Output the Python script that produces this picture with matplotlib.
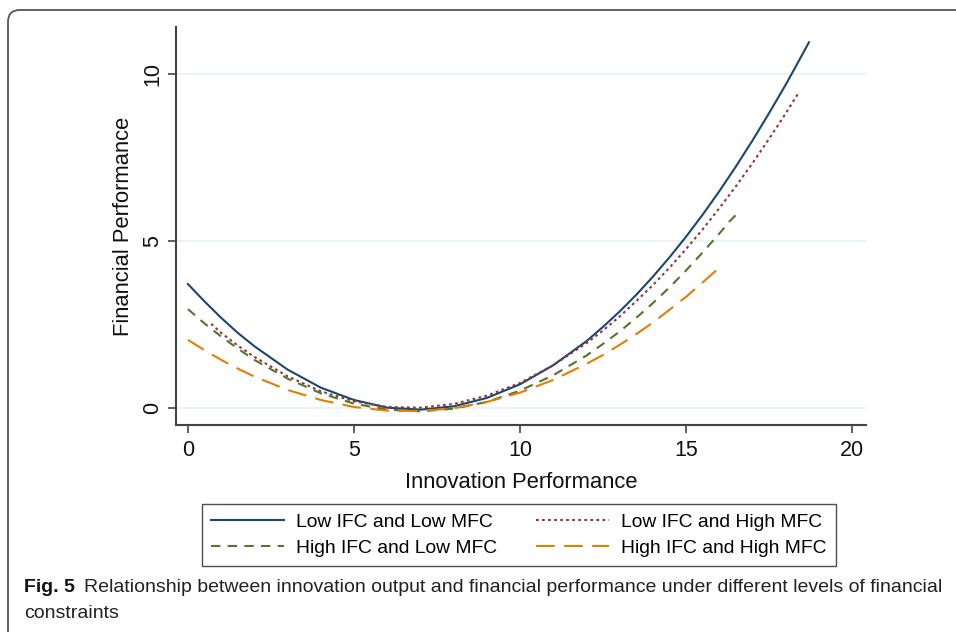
import matplotlib
matplotlib.use("Agg")
import matplotlib.pyplot as plt
from matplotlib.patches import FancyBboxPatch
from matplotlib.transforms import IdentityTransform

# ---- data ----
x_low_low = [0, 0.5, 1, 1.5, 2, 3, 4, 5, 6, 7, 8, 9, 10, 11, 12, 12.5, 13, 13.5, 14, 14.5,
             15, 15.5, 16, 16.5, 17, 17.5, 18, 18.35, 18.7]
y_low_low = [3.71, 3.19, 2.70, 2.25, 1.85, 1.15, 0.61, 0.24, 0.01, -0.05, 0.05, 0.30, 0.71,
             1.28, 2.00, 2.43, 2.89, 3.39, 3.93, 4.51, 5.13, 5.79, 6.49, 7.23, 8.01, 8.83,
             9.68, 10.31, 10.95]

x_low_high = [0.7, 1, 1.5, 2, 3, 4, 5, 6, 7, 8, 9, 10, 11, 12, 12.5, 13, 13.5, 14, 14.5,
              15, 15.5, 16, 16.5, 17, 17.5, 18, 18.4]
y_low_high = [2.52, 2.25, 1.87, 1.53, 0.95, 0.50, 0.20, 0.03, 0.01, 0.12, 0.37, 0.75, 1.28,
              1.94, 2.32, 2.74, 3.20, 3.68, 4.20, 4.76, 5.35, 5.98, 6.64, 7.33, 8.06, 8.82,
              9.46]

x_high_low = [0, 0.5, 1, 1.5, 2, 3, 4, 5, 6, 7, 8, 9, 10, 11, 12, 12.5, 13, 13.5, 14, 14.5,
              15, 15.5, 16, 16.3, 16.6]
y_high_low = [2.96, 2.53, 2.14, 1.78, 1.44, 0.88, 0.44, 0.13, -0.05, -0.10, -0.02, 0.18,
              0.52, 0.98, 1.57, 1.92, 2.29, 2.70, 3.14, 3.61, 4.12, 4.66, 5.22, 5.58, 5.88]

x_high_high = [0, 0.5, 1, 1.5, 2, 3, 4, 5, 6, 7, 8, 9, 10, 11, 12, 12.5, 13, 13.5, 14, 14.5,
               15, 15.5, 16, 16.05]
y_high_high = [2.04, 1.73, 1.44, 1.18, 0.94, 0.54, 0.24, 0.03, -0.08, -0.09, -0.01, 0.18,
               0.46, 0.84, 1.32, 1.59, 1.89, 2.21, 2.56, 2.94, 3.33, 3.76, 4.20, 4.25]

series_labels = ["Low IFC and Low MFC", "Low IFC and High MFC",
                 "High IFC and Low MFC", "High IFC and High MFC"]
x_ticks = [0, 5, 10, 15, 20]
y_ticks = [0, 5, 10]
x_title = "Innovation Performance"
y_title = "Financial Performance"
caption_bold = "Fig. 5"
caption_text = "Relationship between innovation output and financial performance under different levels of financial"
caption_text2 = "constraints"

plt.rcParams['font.family'] = ['Liberation Sans', 'DejaVu Sans']

fig = plt.figure(figsize=(9.56, 6.32), dpi=100)
ax = fig.add_axes([0.1841, 0.3275, 0.7218, 0.6298])

lw = 1.5
l1, = ax.plot(x_low_low, y_low_low, color="#1a476f", lw=lw, label=series_labels[0])
l2, = ax.plot(x_low_high, y_low_high, color="#90353b", lw=lw, linestyle=(0, (1.3, 1.6)),
              label=series_labels[1])
l3, = ax.plot(x_high_low, y_high_low, color="#55752f", lw=lw, linestyle=(0, (4.5, 3.5)),
              label=series_labels[2])
l4, = ax.plot(x_high_high, y_high_high, color="#e37e00", lw=lw, linestyle=(0, (9, 4.5)),
              label=series_labels[3])

ax.set_xlim(-0.36, 20.42)
ax.set_ylim(-0.51, 11.41)
ax.set_xticks(x_ticks)
ax.set_yticks(y_ticks)
ax.set_yticklabels([str(v) for v in y_ticks], rotation=90, va='center')
ax.grid(axis='y', color="#eaf2f3", lw=1.3)
ax.set_axisbelow(True)
for s in ['top', 'right']:
    ax.spines[s].set_visible(False)
for s in ['left', 'bottom']:
    ax.spines[s].set_color("#444444")
    ax.spines[s].set_linewidth(1.5)
ax.tick_params(axis='both', length=6, width=1.2, color="#444444", labelsize=15.5,
               labelcolor="#111111")
ax.tick_params(axis='x', pad=5)
ax.tick_params(axis='y', pad=3)
ax.set_xlabel(x_title, fontsize=15.8, labelpad=8, color="#111111")
ax.set_ylabel(y_title, fontsize=15.8, labelpad=6, color="#111111")

leg = fig.legend(handles=[l1, l3, l2, l4],
                 labels=[series_labels[0], series_labels[2], series_labels[1], series_labels[3]],
                 ncol=2, loc='center',
                 bbox_to_anchor=(0.5429, 0.1535),
                 fancybox=False, edgecolor="#222222", fontsize=13.9,
                 handlelength=3.8, handletextpad=0.62, borderpad=0.45,
                 borderaxespad=0, labelspacing=0.45, columnspacing=2.0)
leg.get_frame().set_linewidth(1.0)

# outer rounded frame
box = FancyBboxPatch((8, -60), 1010, 682, boxstyle="round,pad=0,rounding_size=12",
                     transform=IdentityTransform(), facecolor='none',
                     edgecolor="#555555", lw=1.3)
fig.add_artist(box)

cap_family = ['Liberation Sans', 'DejaVu Sans']
fig.text(24 / 956, 1 - 588 / 632, caption_bold, fontsize=14, fontweight='bold',
         family=cap_family, va='center', ha='left', color="#111111")
fig.text(84 / 956, 1 - 588 / 632, caption_text, fontsize=14,
         family=cap_family, va='center', ha='left', color="#222222")
fig.text(24 / 956, 1 - 613 / 632, caption_text2, fontsize=14,
         family=cap_family, va='center', ha='left', color="#222222")

fig.savefig("out.png", dpi=100)
